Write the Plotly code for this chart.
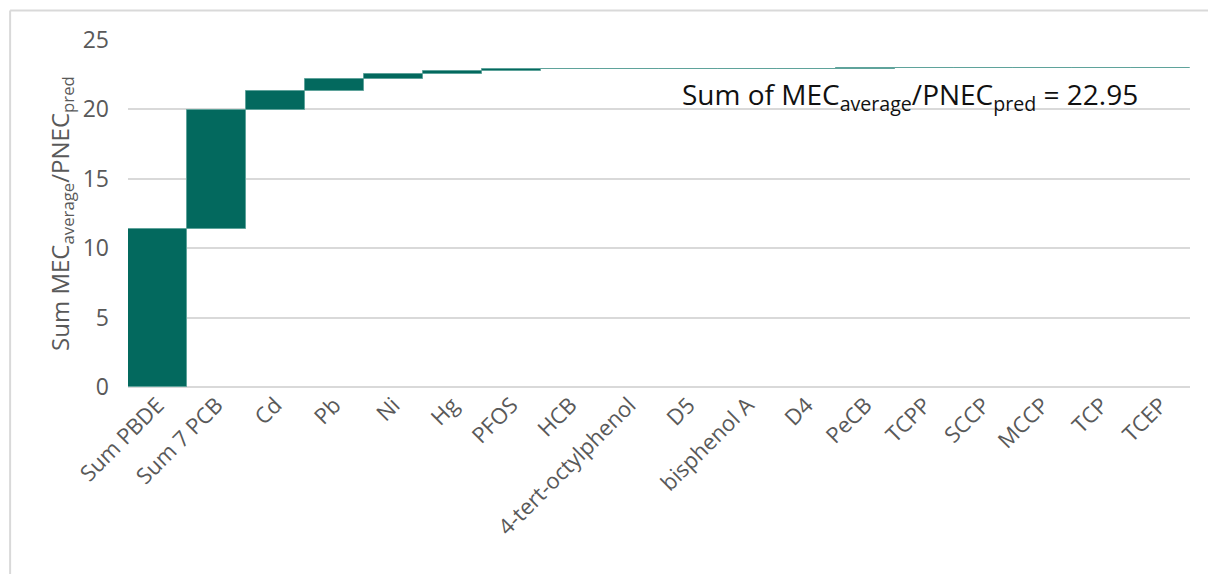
import plotly.graph_objects as go

# Contribution of each substance to the summed risk quotient
substances = [
    "Sum PBDE", "Sum 7 PCB", "Cd", "Pb", "Ni", "Hg", "PFOS", "HCB",
    "4-tert-octylphenol", "D5", "bisphenol A", "D4", "PeCB", "TCPP",
    "SCCP", "MCCP", "TCP", "TCEP",
]
ratio = [
    11.40, 8.55, 1.38, 0.85, 0.34, 0.24, 0.12, 0.035,
    0.015, 0.008, 0.005, 0.003, 0.002, 0.001,
    0.0008, 0.0005, 0.0004, 0.001,
]
y_ticks = [0, 5, 10, 15, 20, 25]

total = sum(ratio)
teal = "#03695E"
grey_text = "#595959"
grid = "#D9D9D9"

fig = go.Figure(
    go.Waterfall(
        x=substances,
        y=ratio,
        measure=["relative"] * len(ratio),
        # thin outline keeps the near-zero steps visible as a line
        increasing=dict(marker=dict(color=teal, line=dict(color="#5FA39B", width=1))),
        connector=dict(visible=False),
        hoverinfo="x+y",
        cliponaxis=False,
    )
)

fig.update_layout(
    width=1208,
    height=574,
    margin=dict(l=128, r=18, t=40, b=187),
    paper_bgcolor="white",
    plot_bgcolor="white",
    showlegend=False,
    waterfallgap=0,
    font=dict(family="Open Sans", color=grey_text),
    xaxis=dict(
        tickangle=-45,
        tickfont=dict(size=22, color=grey_text),
        showgrid=False,
        showline=False,
        ticks="",
        range=[-0.5, len(substances) - 0.5],
    ),
    yaxis=dict(
        range=[0, 25],
        tickvals=y_ticks,
        tickfont=dict(size=23, color=grey_text),
        showgrid=True,
        gridcolor=grid,
        gridwidth=2,
        zeroline=True,
        zerolinecolor=grid,
        zerolinewidth=2,
        ticklabelstandoff=18,
        title=dict(
            text="Sum MEC<sub>average</sub>/PNEC<sub>pred</sub>",
            font=dict(size=24, color=grey_text),
            standoff=6,
        ),
    ),
    annotations=[
        dict(
            text=f"Sum of MEC<sub>average</sub>/PNEC<sub>pred</sub> = {total:.2f}",
            x=0.953, xref="paper", xanchor="right",
            y=total - 0.3, yref="y", yanchor="top",
            showarrow=False,
            font=dict(size=28, color="#111111", family="Open Sans"),
        )
    ],
    shapes=[
        # light frame around the chart area
        dict(type="line", xref="paper", yref="paper",
             x0=-0.111, x1=1.02, y0=1.085, y1=1.085,
             line=dict(color=grid, width=2)),
        dict(type="line", xref="paper", yref="paper",
             x0=-0.111, x1=-0.111, y0=1.085, y1=-0.55,
             line=dict(color=grid, width=2)),
    ],
)

fig.write_html("out.html")
